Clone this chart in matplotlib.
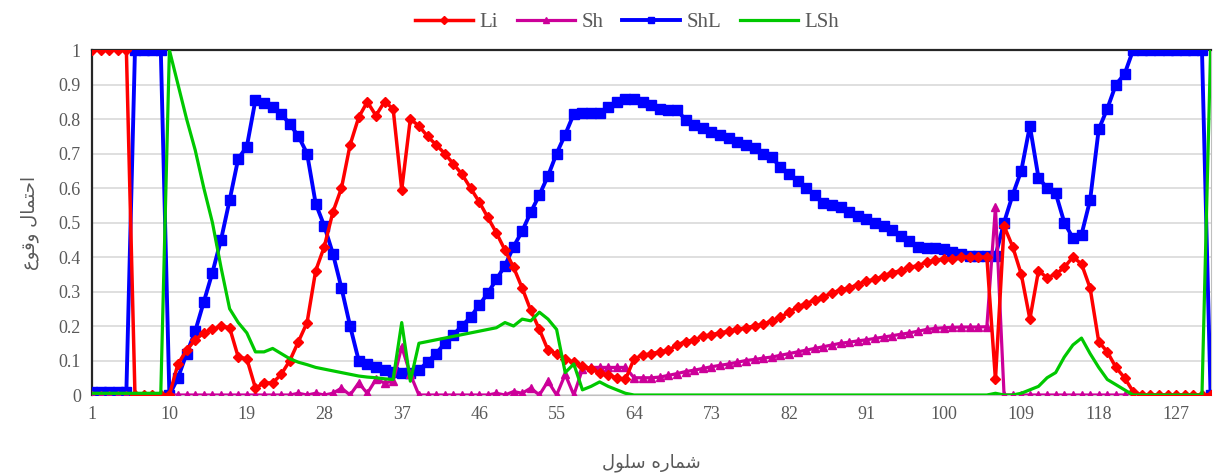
import matplotlib
matplotlib.use('Agg')
import matplotlib.pyplot as plt
import numpy as np

# cell numbers 1..131
cells = list(range(1, 132))

li = [1, 1, 1, 1, 1, 0, 0, 0, 0, 0,
      0.09, 0.13, 0.16, 0.18, 0.19, 0.20, 0.195, 0.11, 0.105, 0.02,
      0.035, 0.035, 0.06, 0.10, 0.155, 0.21, 0.36, 0.43, 0.53, 0.60,
      0.725, 0.805, 0.85, 0.81, 0.85, 0.83, 0.595, 0.80, 0.78, 0.75,
      0.725, 0.70, 0.67, 0.64, 0.60, 0.56, 0.515, 0.47, 0.42, 0.37,
      0.31, 0.245, 0.19, 0.13, 0.12, 0.105, 0.095, 0.085, 0.075, 0.065,
      0.058, 0.05, 0.045, 0.105, 0.115, 0.12, 0.125, 0.13, 0.145, 0.155,
      0.16, 0.17, 0.175, 0.18, 0.185, 0.19, 0.195, 0.20, 0.205, 0.215,
      0.225, 0.24, 0.255, 0.265, 0.275, 0.285, 0.295, 0.305, 0.31, 0.32,
      0.33, 0.335, 0.345, 0.355, 0.36, 0.37, 0.375, 0.385, 0.39, 0.395,
      0.395, 0.40, 0.40, 0.40, 0.40, 0.045, 0.49, 0.43, 0.35, 0.22,
      0.36, 0.34, 0.35, 0.37, 0.40, 0.38, 0.31, 0.155, 0.125, 0.08,
      0.05, 0.01, 0, 0, 0, 0, 0, 0, 0, 0, 0]

sh = [0, 0, 0, 0, 0, 0, 0, 0, 0, 0,
      0, 0, 0, 0, 0, 0, 0, 0, 0, 0,
      0, 0, 0, 0, 0.005, 0, 0.005, 0, 0.005, 0.02,
      0, 0.035, 0.005, 0.045, 0.035, 0.04, 0.14, 0.06, 0, 0,
      0, 0, 0, 0, 0, 0, 0, 0.005, 0, 0.01,
      0.005, 0.02, 0, 0.04, 0, 0.06, 0, 0.075, 0.08, 0.08,
      0.08, 0.08, 0.08, 0.05, 0.05, 0.05, 0.052, 0.057, 0.062, 0.068,
      0.072, 0.077, 0.082, 0.086, 0.09, 0.095, 0.10, 0.103, 0.107, 0.11,
      0.115, 0.12, 0.125, 0.13, 0.135, 0.14, 0.145, 0.15, 0.153, 0.157,
      0.16, 0.164, 0.168, 0.172, 0.176, 0.18, 0.185, 0.19, 0.193, 0.195,
      0.196, 0.197, 0.197, 0.197, 0.198, 0.545, 0, 0, 0, 0,
      0, 0, 0, 0, 0, 0, 0, 0, 0, 0,
      0, 0, 0, 0, 0, 0, 0, 0, 0, 0, 0]

shl = [0.01, 0.01, 0.01, 0.01, 0.01, 1, 1, 1, 1, 0,
       0.05, 0.12, 0.185, 0.27, 0.355, 0.45, 0.565, 0.685, 0.72, 0.855,
       0.845, 0.835, 0.815, 0.785, 0.75, 0.70, 0.555, 0.49, 0.41, 0.31,
       0.2, 0.10, 0.09, 0.08, 0.072, 0.066, 0.063, 0.063, 0.072, 0.096,
       0.12, 0.15, 0.175, 0.20, 0.226, 0.26, 0.295, 0.335, 0.375, 0.43,
       0.475, 0.53, 0.58, 0.635, 0.70, 0.755, 0.815, 0.817, 0.817, 0.817,
       0.835, 0.85, 0.857, 0.857, 0.85, 0.84, 0.83, 0.826, 0.826, 0.797,
       0.783, 0.774, 0.762, 0.754, 0.745, 0.733, 0.725, 0.716, 0.70, 0.69,
       0.66, 0.64, 0.62, 0.60, 0.58, 0.556, 0.55, 0.545, 0.53, 0.52,
       0.51, 0.50, 0.49, 0.478, 0.46, 0.445, 0.43, 0.427, 0.426, 0.424,
       0.414, 0.41, 0.404, 0.403, 0.403, 0.403, 0.50, 0.58, 0.65, 0.78,
       0.63, 0.60, 0.585, 0.50, 0.455, 0.465, 0.565, 0.77, 0.83, 0.90,
       0.93, 1, 1, 1, 1, 1, 1, 1, 1, 1, 0]

lsh = [0.005, 0.005, 0.005, 0.005, 0.005, 0.005, 0.005, 0.005, 0.005, 1.0,
       0.90, 0.80, 0.71, 0.60, 0.50, 0.37, 0.25, 0.21, 0.18, 0.125,
       0.125, 0.135, 0.12, 0.105, 0.095, 0.088, 0.08, 0.075, 0.07, 0.065,
       0.06, 0.055, 0.052, 0.05, 0.047, 0.045, 0.21, 0.04, 0.15, 0.155,
       0.16, 0.165, 0.17, 0.175, 0.18, 0.185, 0.19, 0.195, 0.21, 0.20,
       0.22, 0.215, 0.24, 0.22, 0.19, 0.065, 0.09, 0.015, 0.025, 0.038,
       0.025, 0.015, 0.005, 0, 0, 0, 0, 0, 0, 0,
       0, 0, 0, 0, 0, 0, 0, 0, 0, 0,
       0, 0, 0, 0, 0, 0, 0, 0, 0, 0,
       0, 0, 0, 0, 0, 0, 0, 0, 0, 0,
       0, 0, 0, 0, 0, 0.005, 0, 0, 0.005, 0.015,
       0.025, 0.05, 0.065, 0.11, 0.145, 0.165, 0.12, 0.08, 0.045, 0.03,
       0.015, 0, 0, 0, 0, 0, 0, 0, 0, 0, 1.0]

xticks = list(range(1, 132, 9))
yticks = [0, 0.1, 0.2, 0.3, 0.4, 0.5, 0.6, 0.7, 0.8, 0.9, 1]
ytick_labels = ['0', '0.1', '0.2', '0.3', '0.4', '0.5', '0.6', '0.7', '0.8', '0.9', '1']

# Persian labels, pre-shaped (presentation forms, visual order) since matplotlib has no RTL shaping
ylabel = '\uFEC9\uFEEE\uFED7\uFEED \uFEDD\uFE8E\uFEE4\uFE98\uFEA3\uFE8D'   # احتمال وقوع
xlabel = '\uFEDD\uFEEE\uFEE0\uFEB3 \uFEE9\uFEAD\uFE8E\uFEE4\uFEB7'         # شماره سلول

grey = '#595959'
serif = ['Liberation Serif', 'DejaVu Serif']

fig = plt.figure(figsize=(12.13, 4.75), dpi=100)
ax = fig.add_axes([0.0758, 0.1684, 0.9222, 0.7263])

ax.plot(cells, shl, color='#0000FF', lw=2.8, marker='s', ms=6.5, zorder=3, label='ShL')
ax.plot(cells, sh, color='#CC0099', lw=2.3, marker='^', ms=6, zorder=4, label='Sh')
ax.plot(cells, li, color='#FF0000', lw=2.5, marker='D', ms=5.5, zorder=5, label='Li')
ax.plot(cells, lsh, color='#00C800', lw=2.3, zorder=6, label='LSh')

ax.set_xlim(1, 131)
ax.set_ylim(0, 1)
ax.set_xticks(xticks)
ax.set_yticks(yticks)
ax.set_yticklabels(ytick_labels)
ax.tick_params(length=0, labelsize=13, labelcolor=grey, pad=8)
for lab in ax.get_xticklabels() + ax.get_yticklabels():
    lab.set_family(serif)

ax.grid(axis='y', color='#D9D9D9', lw=1.2, zorder=0)
ax.set_axisbelow(True)
ax.spines['left'].set_color('#262626')
ax.spines['left'].set_linewidth(1.6)
ax.spines['top'].set_color('#262626')
ax.spines['top'].set_linewidth(1.6)
ax.spines['right'].set_color('#BFBFBF')
ax.spines['bottom'].set_color('#BFBFBF')

ax.set_ylabel(ylabel, fontsize=13, color=grey, family='DejaVu Sans', labelpad=14)
ax.set_xlabel(xlabel, fontsize=13, color=grey, family='DejaVu Sans', labelpad=22)

handles, labels = ax.get_legend_handles_labels()
order = [2, 1, 0, 3]
leg = fig.legend([handles[i] for i in order], [labels[i] for i in order],
                 loc='center', bbox_to_anchor=(0.517, 0.953), ncol=4, frameon=False,
                 handlelength=2.8, columnspacing=0.9, handletextpad=0.3,
                 prop={'family': serif, 'size': 15}, markerscale=0.7)
for t in leg.get_texts():
    t.set_color(grey)

fig.savefig('out.png', dpi=100)
